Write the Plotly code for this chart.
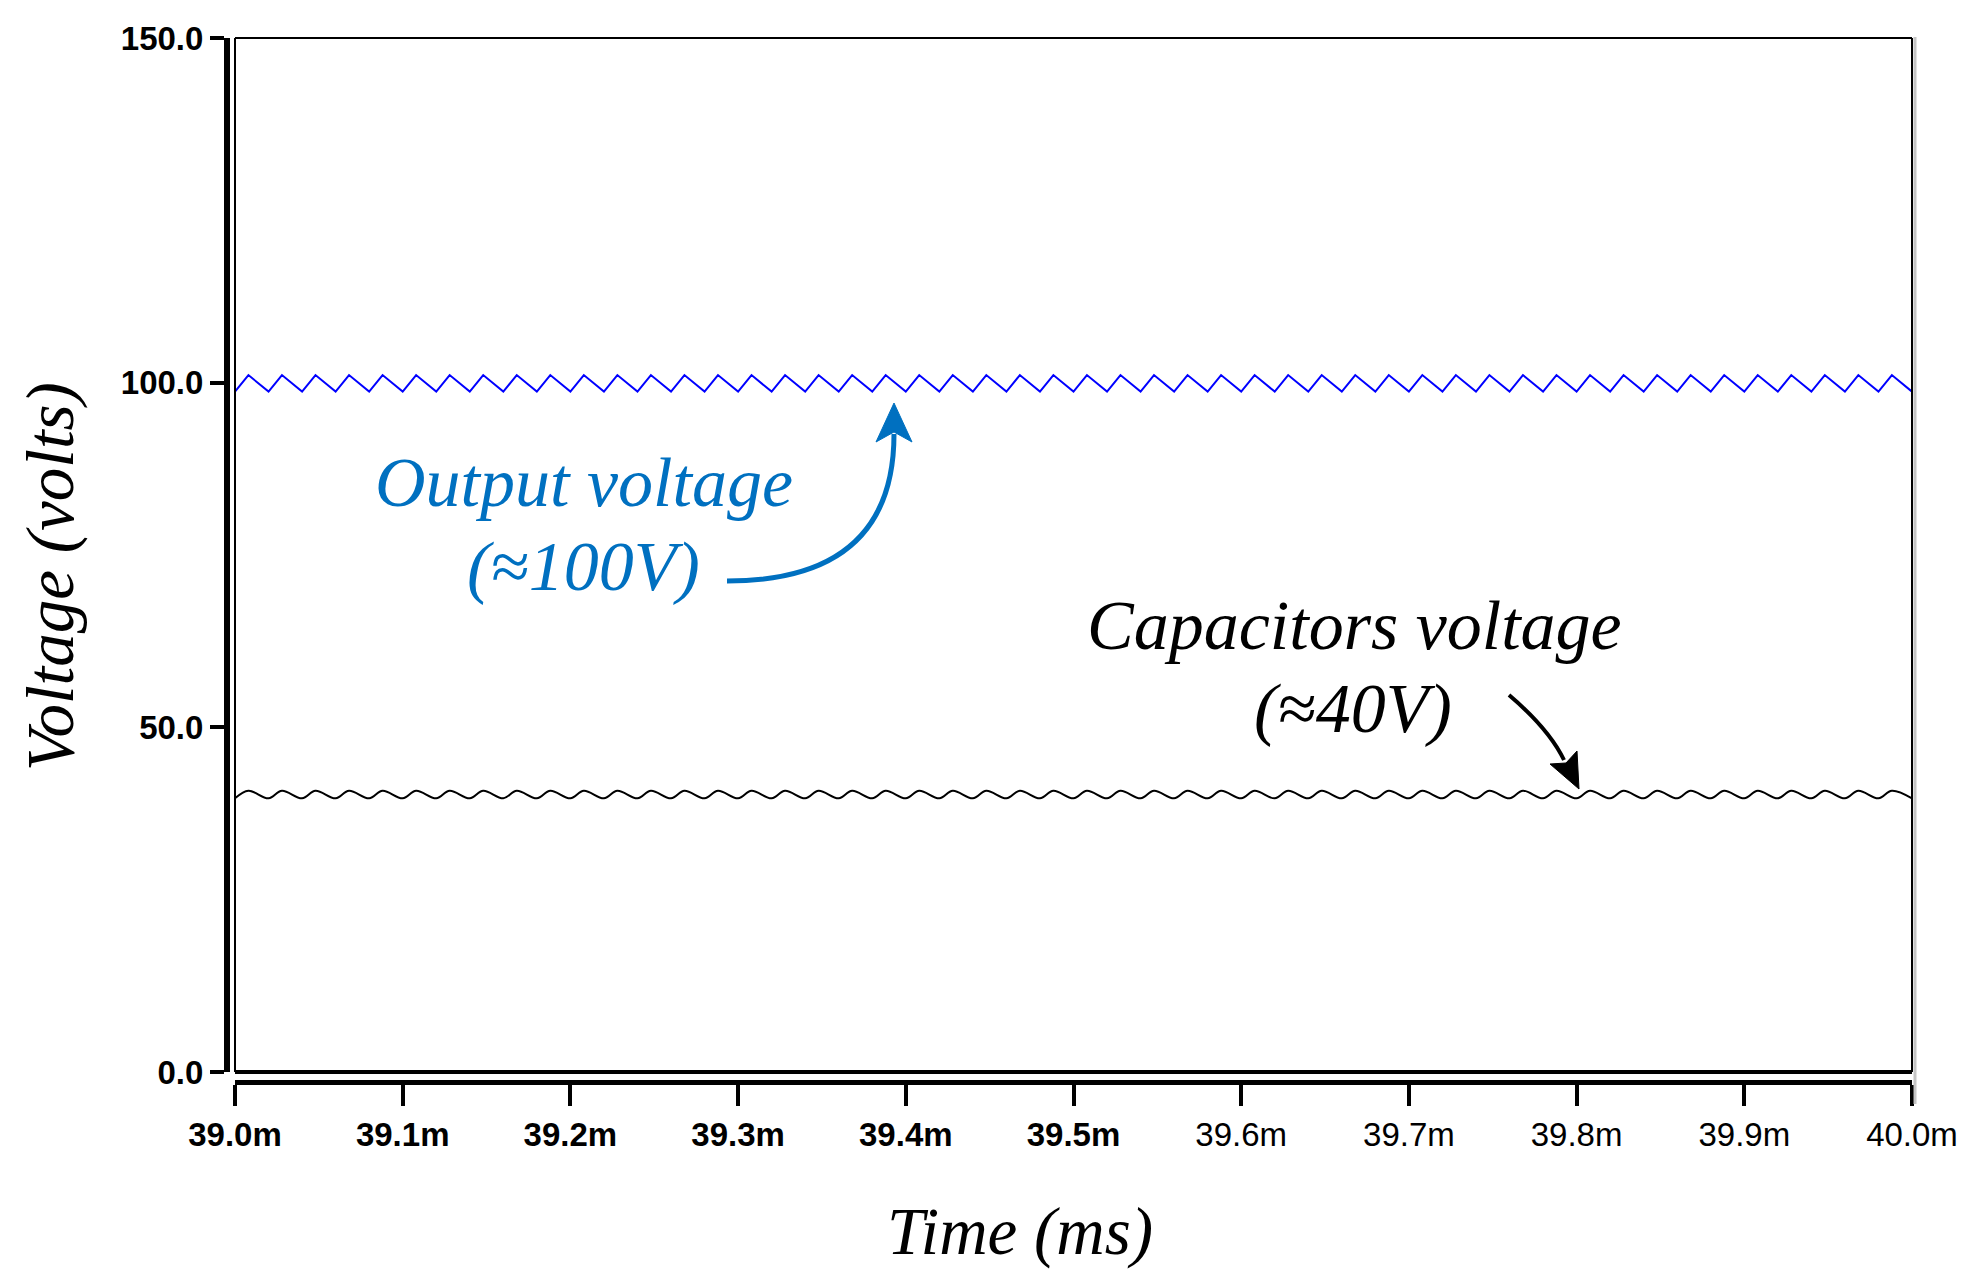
import plotly.graph_objects as go

# ---------------- data ----------------
time_ms = [
    39.000, 39.008, 39.020, 39.028, 39.040, 39.048, 39.060, 39.068, 39.080, 39.088,
    39.100, 39.108, 39.120, 39.128, 39.140, 39.148, 39.160, 39.168, 39.180, 39.188,
    39.200, 39.208, 39.220, 39.228, 39.240, 39.248, 39.260, 39.268, 39.280, 39.288,
    39.300, 39.308, 39.320, 39.328, 39.340, 39.348, 39.360, 39.368, 39.380, 39.388,
    39.400, 39.408, 39.420, 39.428, 39.440, 39.448, 39.460, 39.468, 39.480, 39.488,
    39.500, 39.508, 39.520, 39.528, 39.540, 39.548, 39.560, 39.568, 39.580, 39.588,
    39.600, 39.608, 39.620, 39.628, 39.640, 39.648, 39.660, 39.668, 39.680, 39.688,
    39.700, 39.708, 39.720, 39.728, 39.740, 39.748, 39.760, 39.768, 39.780, 39.788,
    39.800, 39.808, 39.820, 39.828, 39.840, 39.848, 39.860, 39.868, 39.880, 39.888,
    39.900, 39.908, 39.920, 39.928, 39.940, 39.948, 39.960, 39.968, 39.980, 39.988,
    40.000,
]

output_v = [
    98.7, 101.1, 98.7, 101.1, 98.7, 101.1, 98.7, 101.1, 98.7, 101.1,
    98.7, 101.1, 98.7, 101.1, 98.7, 101.1, 98.7, 101.1, 98.7, 101.1,
    98.7, 101.1, 98.7, 101.1, 98.7, 101.1, 98.7, 101.1, 98.7, 101.1,
    98.7, 101.1, 98.7, 101.1, 98.7, 101.1, 98.7, 101.1, 98.7, 101.1,
    98.7, 101.1, 98.7, 101.1, 98.7, 101.1, 98.7, 101.1, 98.7, 101.1,
    98.7, 101.1, 98.7, 101.1, 98.7, 101.1, 98.7, 101.1, 98.7, 101.1,
    98.7, 101.1, 98.7, 101.1, 98.7, 101.1, 98.7, 101.1, 98.7, 101.1,
    98.7, 101.1, 98.7, 101.1, 98.7, 101.1, 98.7, 101.1, 98.7, 101.1,
    98.7, 101.1, 98.7, 101.1, 98.7, 101.1, 98.7, 101.1, 98.7, 101.1,
    98.7, 101.1, 98.7, 101.1, 98.7, 101.1, 98.7, 101.1, 98.7, 101.1,
    98.7,
]

capacitor_v = [
    39.7, 40.8, 39.7, 40.8, 39.7, 40.8, 39.7, 40.8, 39.7, 40.8,
    39.7, 40.8, 39.7, 40.8, 39.7, 40.8, 39.7, 40.8, 39.7, 40.8,
    39.7, 40.8, 39.7, 40.8, 39.7, 40.8, 39.7, 40.8, 39.7, 40.8,
    39.7, 40.8, 39.7, 40.8, 39.7, 40.8, 39.7, 40.8, 39.7, 40.8,
    39.7, 40.8, 39.7, 40.8, 39.7, 40.8, 39.7, 40.8, 39.7, 40.8,
    39.7, 40.8, 39.7, 40.8, 39.7, 40.8, 39.7, 40.8, 39.7, 40.8,
    39.7, 40.8, 39.7, 40.8, 39.7, 40.8, 39.7, 40.8, 39.7, 40.8,
    39.7, 40.8, 39.7, 40.8, 39.7, 40.8, 39.7, 40.8, 39.7, 40.8,
    39.7, 40.8, 39.7, 40.8, 39.7, 40.8, 39.7, 40.8, 39.7, 40.8,
    39.7, 40.8, 39.7, 40.8, 39.7, 40.8, 39.7, 40.8, 39.7, 40.8,
    39.7,
]

x_tick_vals = [39.0, 39.1, 39.2, 39.3, 39.4, 39.5, 39.6, 39.7, 39.8, 39.9, 40.0]
x_tick_labels = ["39.0m", "39.1m", "39.2m", "39.3m", "39.4m", "39.5m",
                 "39.6m", "39.7m", "39.8m", "39.9m", "40.0m"]
x_tick_bold = [True, True, True, True, True, True, False, False, False, False, False]
y_tick_vals = [0, 50, 100, 150]
y_tick_labels = ["0.0", "50.0", "100.0", "150.0"]

# ---------------- layout geometry (pixels) ----------------
W, H = 1978, 1271
M_L, M_R, M_T, M_B = 227, 66, 38, 189
PW = W - M_L - M_R
PH = H - M_T - M_B
X_DOM0 = (235 - M_L) / PW
Y_DOM0 = (1082 - 1072) / PH
PX_PER_MS = (W - M_R - 235) / 1.0
PX_PER_V = (1072 - M_T) / 150.0


def dx(px):  # pixel x -> data x (for decorations only)
    return 39.0 + (px - 235) / PX_PER_MS


def dy(py):  # pixel y -> data y (for decorations only)
    return (1072 - py) / PX_PER_V


def paper_x(px):
    return (px - M_L) / PW


def paper_y(py):
    return (H - M_B - py) / PH


SERIF = "Liberation Serif, Times New Roman, serif"
SANS = "Liberation Sans, Arial, sans-serif"
BLUE_TXT = "#0070C0"

fig = go.Figure()
fig.add_trace(go.Scatter(x=time_ms, y=output_v, mode="lines",
                         line=dict(color="#0000FF", width=2), name="Output voltage",
                         showlegend=False))
fig.add_trace(go.Scatter(x=time_ms, y=capacitor_v, mode="lines",
                         line=dict(color="#000000", width=2, shape="spline", smoothing=1.0),
                         name="Capacitors voltage", showlegend=False))

x_ticktext = [f"<b>{t}</b>" if b else t for t, b in zip(x_tick_labels, x_tick_bold)]

fig.update_layout(
    width=W, height=H,
    margin=dict(l=M_L, r=M_R, t=M_T, b=M_B, pad=0),
    paper_bgcolor="white", plot_bgcolor="white",
    showlegend=False,
    xaxis=dict(
        domain=[X_DOM0, 1], range=[39.0, 40.0], anchor="free", position=0,
        showline=True, linecolor="black", linewidth=5,
        ticks="outside", ticklen=21, tickwidth=4, tickcolor="black",
        tickvals=x_tick_vals, ticktext=x_ticktext,
        tickfont=dict(family=SANS, size=33, color="black"),
        showgrid=False, zeroline=False, automargin=False,
    ),
    yaxis=dict(
        domain=[Y_DOM0, 1], range=[0, 150], anchor="free", position=0,
        showline=True, linecolor="black", linewidth=6,
        ticks="outside", ticklen=14, tickwidth=4, tickcolor="black",
        tickvals=y_tick_vals, ticktext=[f"<b>{t}</b>" for t in y_tick_labels],
        tickfont=dict(family=SANS, size=33, color="black"),
        showgrid=False, zeroline=False, automargin=False,
    ),
)

# plot frame
frame = [
    dict(x0=0, x1=1, y0=1, y1=1, w=2, c="black"),
    dict(x0=0, x1=0, y0=0, y1=1, w=2, c="black"),
    dict(x0=0, x1=1, y0=0, y1=0, w=4, c="black"),
    dict(x0=1, x1=1, y0=0, y1=1, w=2, c="black"),
]
for f in frame:
    fig.add_shape(type="line", xref="x domain", yref="y domain",
                  x0=f["x0"], x1=f["x1"], y0=f["y0"], y1=f["y1"],
                  line=dict(color=f["c"], width=f["w"]))
fig.add_shape(type="line", xref="paper", yref="paper",
              x0=paper_x(1915), x1=paper_x(1915), y0=paper_y(1104), y1=paper_y(37),
              line=dict(color="#c4c4c4", width=3))


# curved arrows
def qpath(p0, c, p1):
    return (f"M {dx(p0[0])},{dy(p0[1])} Q {dx(c[0])},{dy(c[1])} "
            f"{dx(p1[0])},{dy(p1[1])}")


def head(pts):
    return "M " + " L ".join(f"{dx(a)},{dy(b)}" for a, b in pts) + " Z"


fig.add_shape(type="path", xref="x", yref="y",
              path=qpath((727, 581), (894, 581), (894, 434)),
              line=dict(color=BLUE_TXT, width=5), fillcolor="rgba(0,0,0,0)")
fig.add_shape(type="path", xref="x", yref="y",
              path=head([(894, 403), (876, 442), (894, 432), (912, 442)]),
              line=dict(color=BLUE_TXT, width=1), fillcolor=BLUE_TXT)

fig.add_shape(type="path", xref="x", yref="y",
              path=qpath((1509, 695), (1549, 729), (1564, 760)),
              line=dict(color="black", width=4), fillcolor="rgba(0,0,0,0)")
fig.add_shape(type="path", xref="x", yref="y",
              path=head([(1579, 789), (1577, 751), (1566, 763), (1550, 764)]),
              line=dict(color="black", width=1), fillcolor="black")

# texts
labels = [
    ("Output voltage", 584, 482, BLUE_TXT),
    ("(≈100V)", 583, 566, BLUE_TXT),
    ("Capacitors voltage", 1354, 625, "black"),
    ("(≈40V)", 1353, 708, "black"),
]
for txt, px_, py_, col in labels:
    fig.add_annotation(xref="x", yref="y", x=dx(px_), y=dy(py_),
                       xanchor="center", yanchor="middle",
                       text=f"<i>{txt}</i>", showarrow=False,
                       font=dict(family=SERIF, size=70, color=col))

fig.add_annotation(xref="paper", yref="paper", x=paper_x(50), y=paper_y(577),
                   xanchor="center", yanchor="middle",
                   text="<i>Voltage (volts)</i>", showarrow=False, textangle=-90,
                   font=dict(family=SERIF, size=67, color="black"))
fig.add_annotation(xref="paper", yref="paper", x=paper_x(1020), y=paper_y(1231),
                   xanchor="center", yanchor="middle",
                   text="<i>Time (ms)</i>", showarrow=False,
                   font=dict(family=SERIF, size=67, color="black"))

fig.write_html("out.html", config={"displayModeBar": False},
               post_script="document.body.style.margin='0px';")
